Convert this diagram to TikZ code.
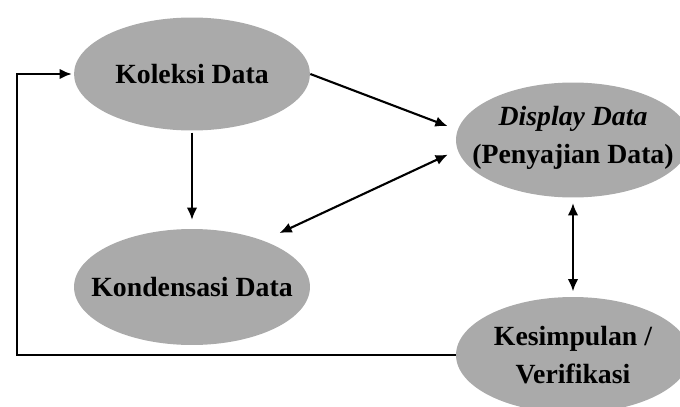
\documentclass[tikz,border=0pt]{standalone}
\usepackage{fontspec}
\setmainfont{Liberation Serif}
\usetikzlibrary{arrows.meta,shapes.geometric}
\definecolor{abu}{RGB}{170,170,170}
\tikzset{tahap/.style = {ellipse, fill=abu, inner sep=0pt,
                         minimum width=#1, minimum height=2.26cm},
         tahap/.default=4.72cm,
         teks/.style = {align=center, inner sep=0pt,
                        font=\bfseries\fontsize{15.8}{21.5}\selectfont},
         panah/.style = {-{Latex[length=7pt,width=6pt]}, line width=1.2pt},
         panah2/.style = {{Latex[length=7pt,width=6pt]}-{Latex[length=7pt,width=6pt]}, line width=1.2pt}
        }

\begin{document}
\begin{tikzpicture}[x=0.02cm, y=-0.02cm]
  \useasboundingbox (0,0) rectangle (680,406);
  \node[tahap] (koleksi) at (192,74) {};
  \node[tahap, minimum height=2.32cm] (kondensasi) at (192,287) {};
  \node[tahap=4.68cm, minimum height=2.3cm] (display) at (573,140) {};
  \node[tahap=4.68cm, minimum height=2.32cm] (kesimpulan) at (573,355) {};
  \node[teks] (t-koleksi) at (koleksi) {Koleksi Data};
  \node[teks] (t-kondensasi) at (kondensasi) {Kondensasi Data};
  \node[teks] (t-display) at ([yshift=1pt]display) {\textit{Display Data}\\(Penyajian Data)};
  \node[teks] (t-kesimpulan) at (kesimpulan) {Kesimpulan /\\Verifikasi};
  \coordinate (balik) at (17,355);
  \draw[panah, shorten <=1pt, shorten >=5pt] (koleksi.south) -- (kondensasi.north);
  \draw[panah, shorten >=6pt] (koleksi.east) -- (display.175);
  \draw[panah2, shorten <=6pt, shorten >=10pt] (display.185) -- (kondensasi.33);
  \draw[panah2, shorten <=3pt, shorten >=3pt] (display.south) -- (kesimpulan.north);
  \draw[panah, line width=1.6pt, shorten >=1pt] (kesimpulan.west) -- (balik) |- (koleksi.west);
\end{tikzpicture}
\end{document}
